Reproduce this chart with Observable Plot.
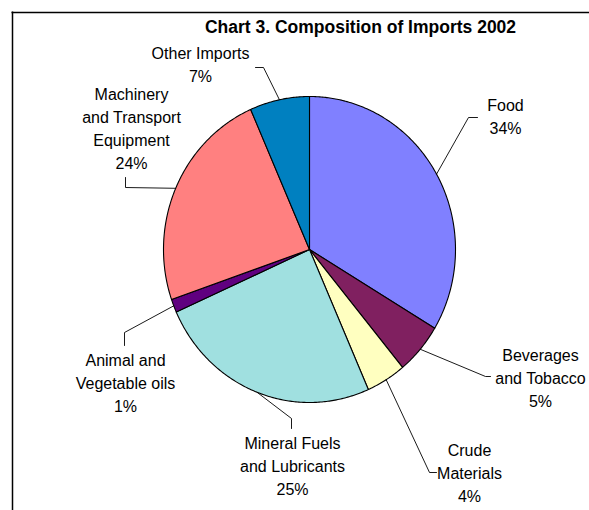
<!DOCTYPE html>
<html>
<head>
<meta charset="utf-8">
<script src="https://cdn.jsdelivr.net/npm/d3@7"></script>
<script src="https://cdn.jsdelivr.net/npm/@observablehq/plot@0.6"></script>
<style>
  html, body { margin: 0; padding: 0; background: #fff; }
  #chart svg { display: block; }
</style>
</head>
<body>
<div id="chart"></div>
<script>
// ---- data ----
const title = "Chart 3. Composition of Imports 2002";
const categories = [
  "Food",
  "Beverages and Tobacco",
  "Crude Materials",
  "Mineral Fuels and Lubricants",
  "Animal and Vegetable oils",
  "Machinery and Transport Equipment",
  "Other Imports"
];
const shares = [33.6, 5.4, 4.4, 24.9, 1.4, 23.7, 6.6];
const labelLines = [
  ["Food"],
  ["Beverages", "and Tobacco"],
  ["Crude", "Materials"],
  ["Mineral Fuels", "and Lubricants"],
  ["Animal and", "Vegetable oils"],
  ["Machinery", "and Transport", "Equipment"],
  ["Other Imports"]
];
const colors = ["#8080FF", "#802060", "#FFFFC0", "#A0E0E0", "#600080", "#FF8080", "#0080C0"];

// ---- layout (pixels) ----
const W = 589, H = 510;
const cx = 309, cy = 249, rx = 146, ry = 153;
const labelAt = [[505, 114.5], [540, 376.5], [469, 471.5], [292, 464.5], [125, 381.5], [131, 126.5], [200, 62.5]];
const leaderBends = [
  [[468, 117], [477, 117]],
  [[485, 376], [490, 376]],
  [[429, 472], [436, 472]],
  [[291, 418], [291, 428]],
  [[124, 332], [124, 345]],
  [[125, 187], [125, 177]],
  [[263, 67], [255, 67]]
];

const total = d3.sum(shares);
const pt = (a, k = 1) => [cx + k * rx * Math.sin(a), cy - k * ry * Math.cos(a)];

// slice outlines
const slicePts = [];
const leaders = [];
const labels = [];
let cum = 0;
categories.forEach((name, i) => {
  const a0 = cum / total * 2 * Math.PI;
  cum += shares[i];
  const a1 = cum / total * 2 * Math.PI;
  const n = Math.max(2, Math.ceil((a1 - a0) / 0.01));
  slicePts.push({name, x: cx, y: cy});
  for (let j = 0; j <= n; j++) {
    const [x, y] = pt(a0 + (a1 - a0) * j / n);
    slicePts.push({name, x, y});
  }
  slicePts.push({name, x: cx, y: cy});
  const am = (a0 + a1) / 2;
  const [ex, ey] = pt(am);
  leaders.push({name, x: ex, y: ey});
  leaderBends[i].forEach(([x, y]) => leaders.push({name, x, y}));
  labels.push({
    name,
    x: labelAt[i][0],
    y: labelAt[i][1],
    text: [...labelLines[i], Math.round(shares[i]) + "%"].join("\n")
  });
});

const font = "Liberation Sans, Arial, Helvetica, sans-serif";

const chart = Plot.plot({
  width: W,
  height: H,
  margin: 0,
  style: {fontFamily: font, background: "#fff", overflow: "visible"},
  x: {domain: [0, W], range: [0, W], axis: null},
  y: {domain: [0, H], range: [0, H], axis: null},
  color: {domain: categories, range: colors},
  marks: [
    Plot.ruleY([12], {x1: 11.5, x2: W, stroke: "#000", strokeWidth: 1.5}),
    Plot.ruleX([12], {y1: 11.5, y2: H, stroke: "#000", strokeWidth: 1.5}),
    Plot.line(slicePts, {x: "x", y: "y", z: "name", fill: "name", stroke: "#000", strokeWidth: 1.1, strokeLinejoin: "round"}),
    Plot.line(leaders, {x: "x", y: "y", z: "name", stroke: "#000", strokeWidth: 0.9}),
    Plot.text(labels, {x: "x", y: "y", text: "text", fontSize: 16, lineHeight: 1.44, fill: "#000", textAnchor: "middle"}),
    Plot.text([title], {x: 360, y: 27, text: d => d, fontSize: 17.5, fontWeight: "bold", fill: "#000", textAnchor: "middle"})
  ]
});
document.getElementById("chart").appendChild(chart);
</script>
</body>
</html>
